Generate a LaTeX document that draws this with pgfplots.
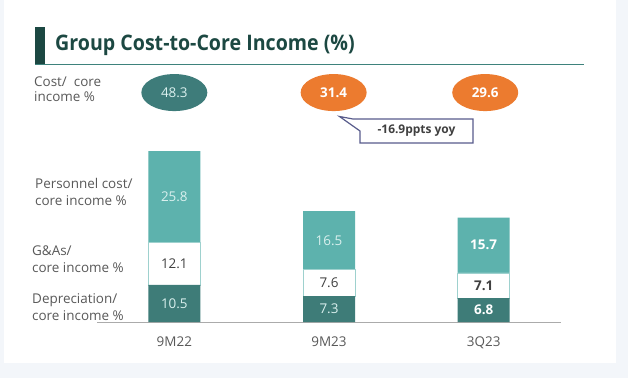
\documentclass[border=0pt]{standalone}
\usepackage{pgfplots}
\pgfplotsset{compat=1.18}
\usepackage{fontspec}
\setmainfont{Open Sans}
\usetikzlibrary{shapes.geometric}
\definecolor{teal1}{RGB}{93,178,173}
\definecolor{teal2}{RGB}{62,124,120}
\definecolor{ell1}{RGB}{62,124,122}
\definecolor{orng}{RGB}{236,123,47}
\definecolor{ttl}{RGB}{28,72,66}
\definecolor{rulec}{RGB}{62,130,124}
\definecolor{lbl}{RGB}{89,89,89}
\definecolor{bg}{RGB}{243,246,250}
\definecolor{callb}{RGB}{88,92,140}
\definecolor{lighttxt}{RGB}{218,240,238}
\definecolor{darktxt}{RGB}{64,64,64}
\begin{document}
\begin{tikzpicture}[x=1bp,y=1bp]
% background
\fill[bg] (0,0) rectangle (628,378);
\fill[white] (4,15) rectangle (616,378);
% title
\fill[ttl] (35,314) rectangle (45,351);
\draw[rulec, line width=1.6bp] (35,313.5) -- (584,313.5);
\node[anchor=base west, inner sep=0, text=ttl, font=\fontsize{21.5}{24}\selectfont\bfseries] at (55,328) {\scalebox{0.915}[1]{Group Cost-to-Core Income (\%)}};
% left labels
\node[anchor=west, align=left, inner sep=0, text=lbl, font=\fontsize{13.5}{15}\selectfont] at (34,289) {Cost/\ \ core\\income \%};
\node[anchor=west, align=left, inner sep=0, text=lbl, font=\fontsize{13.5}{17}\selectfont] at (35,186.5) {Personnel cost/\\core income \%};
\node[anchor=west, align=left, inner sep=0, text=lbl, font=\fontsize{13.5}{17}\selectfont] at (32,118.5) {G\&As/\\core income \%};
\node[anchor=west, align=left, inner sep=0, text=lbl, font=\fontsize{13.5}{17}\selectfont] at (32,71) {Depreciation/\\core income \%};
% callout
\draw[callb, line width=1.2bp, fill=white] (353,259) -- (473,259) -- (473,235) -- (360,235) -- (360,247) -- (339.5,261.5) -- cycle;
\node[inner sep=0, text=darktxt, font=\fontsize{12}{14}\selectfont\bfseries] at (416.5,247) {-16.9ppts yoy};
% bars
\begin{axis}[at={(97bp,56bp)}, anchor=south west, scale only axis,
  width=464bp, height=176.5bp, xmin=-0.5, xmax=2.5, ymin=0, ymax=50,
  ybar stacked, bar width=52bp, axis y line=none, axis x line*=bottom,
  x axis line style={draw=black!33, line width=0.9bp, -},
  xtick={0,1,2}, xticklabels={9M22,9M23,3Q23}, major tick length=0,
  xticklabel style={font=\fontsize{13.5}{15}\selectfont, text=lbl, yshift=-11bp},
  clip=false]
\addplot[fill=teal2, draw=none] coordinates {(0,10.5) (1,7.3) (2,6.8)};
\addplot[fill=white, draw=teal1!60, line width=0.5bp] coordinates {(0,12.1) (1,7.6) (2,7.1)};
\addplot[fill=teal1, draw=none] coordinates {(0,25.8) (1,16.5) (2,15.7)};
\end{axis}
% labels and totals
\begin{axis}[at={(97bp,56bp)}, anchor=south west, scale only axis,
  width=464bp, height=176.5bp, xmin=-0.5, xmax=2.5, ymin=0, ymax=50,
  hide axis, clip=false, point meta=explicit symbolic, nodes near coords,
  every node near coord/.append style={anchor=center, inner sep=0, font=\fontsize{13.5}{15}\selectfont}]
\addplot[draw=none, mark=none, every node near coord/.append style={text=lighttxt}] coordinates {(0,5.25)[10.5] (1,3.65)[7.3] (0,35.5)[25.8] (1,23.15)[16.5]};
\addplot[draw=none, mark=none, every node near coord/.append style={text=white, font=\fontsize{13.5}{15}\selectfont\bfseries}] coordinates {(2,3.4)[6.8] (2,21.75)[15.7]};
\addplot[draw=none, mark=none, every node near coord/.append style={text=darktxt}] coordinates {(0,16.55)[12.1] (1,11.1)[7.6]};
\addplot[draw=none, mark=none, every node near coord/.append style={text=darktxt, font=\fontsize{13.5}{15}\selectfont\bfseries}] coordinates {(2,10.35)[7.1]};
\addplot[draw=none, mark=none, every node near coord/.append style={ellipse, fill=ell1, minimum width=66bp, minimum height=37bp, text=lighttxt}] coordinates {(0,65)[48.3]};
\addplot[draw=none, mark=none, every node near coord/.append style={ellipse, fill=orng, minimum width=66bp, minimum height=37bp, text=white, font=\fontsize{13.5}{15}\selectfont\bfseries}] coordinates {(1.03,65)[31.4] (2.01,65)[29.6]};
\end{axis}
\end{tikzpicture}
\end{document}
